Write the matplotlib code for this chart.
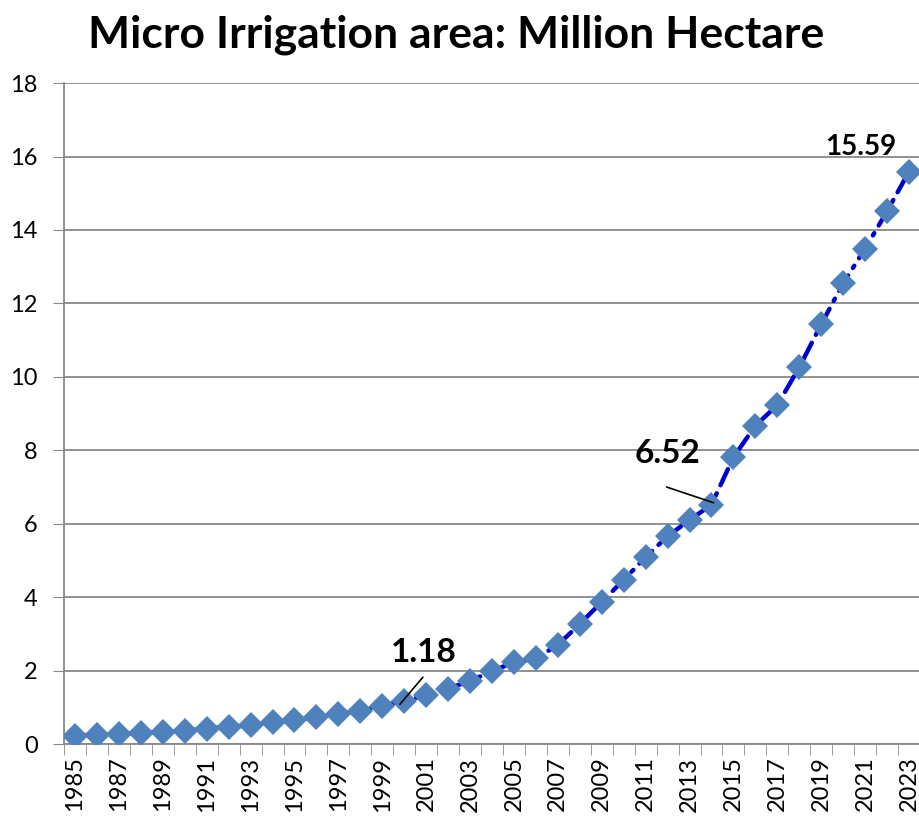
import matplotlib.pyplot as plt
import numpy as np

plt.rcParams['font.family'] = ['Lato', 'DejaVu Sans']

# Data
years = list(range(1985, 2024))
area = [0.23, 0.25, 0.27, 0.30, 0.33, 0.36, 0.42, 0.47, 0.51, 0.59,
        0.65, 0.73, 0.82, 0.90, 1.04, 1.18, 1.33, 1.51, 1.72, 1.98,
        2.23, 2.33, 2.70, 3.27, 3.87, 4.47, 5.09, 5.66, 6.10, 6.52,
        7.81, 8.67, 9.23, 10.26, 11.43, 12.55, 13.49, 14.51, 15.59]
labelled = {2000: '1.18', 2014: '6.52', 2023: '15.59'}

fig = plt.figure(figsize=(9.2, 8.16), dpi=100)
ax = fig.add_axes([0.0696, 0.0882, 0.9304, 0.81])

x = np.arange(len(years))
ax.plot(x, area, color='#0000CC', lw=3.2, ls=(0, (4, 2, 0.6, 2)),
        dash_capstyle='round', zorder=3)
ax.plot(x, area, ls='none', marker='D', ms=13, color='#4F81BD',
        markeredgewidth=0, zorder=4)

# data labels with leader lines
i = years.index(2000)
ax.annotate('', xy=(i - 0.2, area[i] - 0.1), xytext=(i + 0.85, 1.82),
            arrowprops=dict(arrowstyle='-', color='black', lw=1.2,
                            shrinkA=0, shrinkB=0), zorder=5)
ax.text(i + 0.9, 2.5, labelled[2000], fontsize=24, fontweight='bold',
        ha='center', va='center')
i = years.index(2014)
ax.annotate('', xy=(i + 0.1, area[i] + 0.05), xytext=(i - 2.05, 7.0),
            arrowprops=dict(arrowstyle='-', color='black', lw=1.2,
                            shrinkA=0, shrinkB=0), zorder=5)
ax.text(i - 2.0, 7.9, labelled[2014], fontsize=24, fontweight='bold',
        ha='center', va='center')
i = years.index(2023)
ax.text(i - 2.2, 16.25, labelled[2023], fontsize=20, fontweight='bold',
        ha='center', va='center')

ax.set_xlim(-0.5, len(years) - 0.5)
ax.set_ylim(0, 18)
ax.set_yticks(range(0, 19, 2))
ax.tick_params(axis='y', labelsize=17, length=8, color='#888888', pad=11)

ax.set_xticks(x[::2])
ax.set_xticklabels([str(y) for y in years[::2]], rotation=90, fontsize=17)
ax.set_xticks(np.arange(-0.5, len(years), 1), minor=True)
ax.tick_params(axis='x', which='major', length=0, pad=9)
ax.tick_params(axis='x', which='minor', length=8, color='#888888')

ax.grid(axis='y', color='#888888', lw=1.3)
ax.set_axisbelow(True)
for s in ['top', 'right']:
    ax.spines[s].set_visible(False)
ax.spines['left'].set_color('#888888')
ax.spines['left'].set_linewidth(1.3)
ax.spines['bottom'].set_color('#888888')
ax.spines['bottom'].set_linewidth(1.3)

fig.text(0.496, 0.957, 'Micro Irrigation area: Million Hectare', fontsize=32,
         fontweight='bold', ha='center', va='center')

fig.savefig('out.png', dpi=100)
